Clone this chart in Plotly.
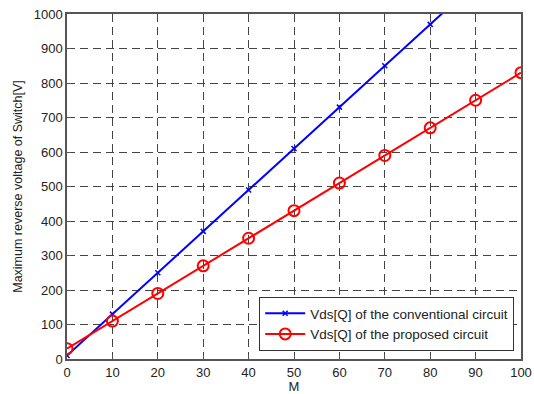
import plotly.graph_objects as go

M = [0, 10, 20, 30, 40, 50, 60, 70, 80, 90, 100]
conventional = [10, 130, 250, 370, 490, 610, 730, 850, 970, 1090, 1210]
proposed = [30, 110, 190, 270, 350, 430, 510, 590, 670, 750, 830]
x_ticks = [0, 10, 20, 30, 40, 50, 60, 70, 80, 90, 100]
y_ticks = [0, 100, 200, 300, 400, 500, 600, 700, 800, 900, 1000]

FONT = "Liberation Sans, Arial"

fig = go.Figure()
fig.add_trace(go.Scatter(
    x=M, y=conventional, mode="lines+markers",
    name="Vds[Q] of the conventional circuit",
    line=dict(color="#0000ff", width=2),
    marker=dict(symbol="x-thin", size=5, line=dict(color="#0000ff", width=1.5), color="#0000ff"),
))
fig.add_trace(go.Scatter(
    x=M, y=proposed, mode="lines+markers",
    name="Vds[Q] of the proposed circuit",
    line=dict(color="#ff0000", width=2),
    marker=dict(symbol="circle-open", size=11, line=dict(color="#ff0000", width=2), color="#ff0000"),
))

axis_common = dict(
    showline=True, linecolor="#555555", linewidth=1.5, mirror=True,
    showgrid=True, gridcolor="#444444", griddash="8px,5px", gridwidth=1,
    ticks="inside", ticklen=4, tickcolor="#555555",
    zeroline=False, automargin=False,
    tickfont=dict(family=FONT, size=13, color="#222222"),
)

fig.update_xaxes(range=[0, 100], tickvals=x_ticks, ticklabelstandoff=1,
                 title=dict(text="M", standoff=10, font=dict(family=FONT, size=13, color="#222222")),
                 **axis_common)
fig.update_yaxes(range=[0, 1000], tickvals=y_ticks,
                 title=dict(text="Maximum reverse voltage of Switch[V]", standoff=8,
                            font=dict(family=FONT, size=12.5, color="#222222")),
                 **axis_common)

fig.update_layout(
    width=534, height=394,
    margin=dict(l=67, r=13, t=14, b=35),
    plot_bgcolor="white", paper_bgcolor="white",
    showlegend=True,
    legend=dict(
        x=0.985, y=0.023, xanchor="right", yanchor="bottom",
        bgcolor="white", bordercolor="#333333", borderwidth=1,
        font=dict(family=FONT, size=13.5, color="#222222"),
        tracegroupgap=0, itemwidth=40,
    ),
)

fig.write_html("out.html")
